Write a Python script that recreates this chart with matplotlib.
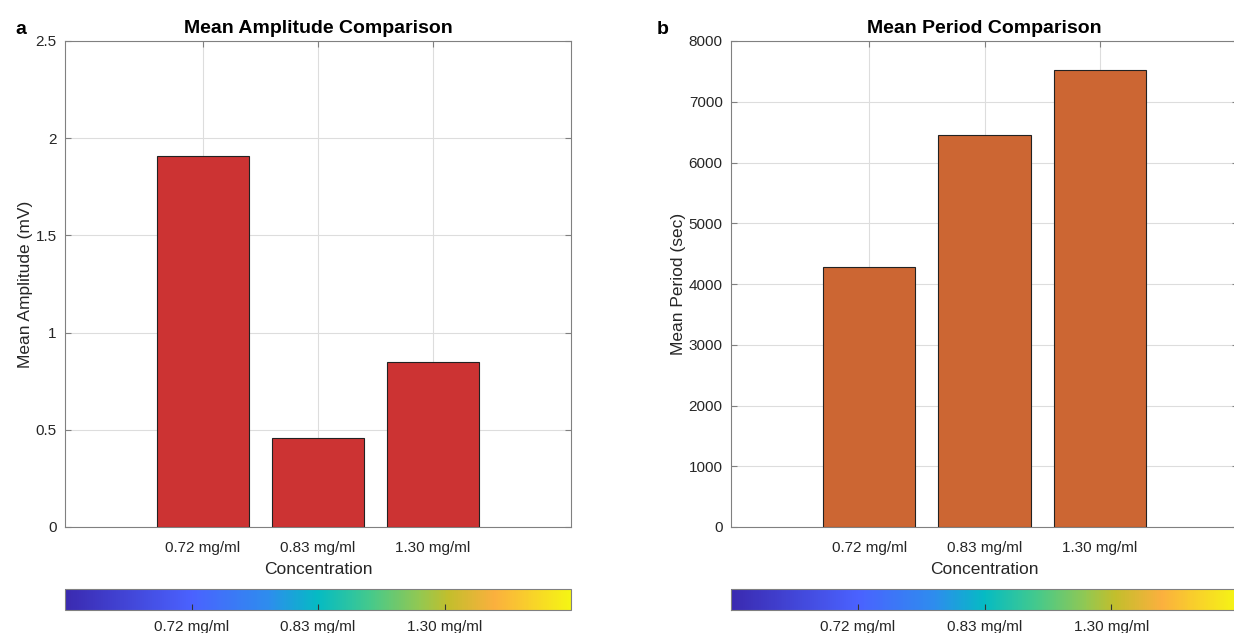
import numpy as np
import matplotlib
matplotlib.use("Agg")
import matplotlib.pyplot as plt
from matplotlib.colors import LinearSegmentedColormap
import matplotlib.colorbar as mcolorbar
from matplotlib.colors import Normalize

plt.rcParams['font.family'] = ['Liberation Sans', 'DejaVu Sans']

categories = ["0.72 mg/ml", "0.83 mg/ml", "1.30 mg/ml"]
amplitude = [1.91, 0.46, 0.85]
period = [4280, 6460, 7530]

cmap_stops = [(0.0, "#3A2AB0"), (0.25, "#4A62FF"), (0.4, "#2E8CEE"),
              (0.5, "#05BBC3"), (0.6, "#42C98E"), (0.7, "#92C852"),
              (0.76, "#C3BE2C"), (0.85, "#FBB03E"), (1.0, "#F5F514")]
cmap = LinearSegmentedColormap.from_list("parula_like", cmap_stops)

W, H = 1234, 633
fig = plt.figure(figsize=(W / 100, H / 100), dpi=100)

def px_axes(x0, y0, x1, y1):
    return fig.add_axes([x0 / W, 1 - y1 / H, (x1 - x0) / W, (y1 - y0) / H])

spine_c = "#808080"
text_c = "#262626"

def style(ax):
    for s in ax.spines.values():
        s.set_color(spine_c)
        s.set_linewidth(0.8)
    ax.tick_params(direction="in", top=True, right=True, colors=spine_c,
                   labelcolor=text_c, labelsize=11, length=4, width=0.8)
    ax.tick_params(axis="x", pad=10)
    ax.tick_params(axis="y", pad=6)
    ax.grid(True, color="#DDDDDD", linewidth=0.8)
    ax.set_axisbelow(True)

x = np.arange(1, len(categories) + 1)

panels = [
    (65, 571, amplitude, "#CC3333", "Mean Amplitude Comparison", "Mean Amplitude (mV)",
     (0, 2.5), [0, 0.5, 1, 1.5, 2, 2.5], ["0", "0.5", "1", "1.5", "2", "2.5"], "a", 15),
    (731, 1238, period, "#CC6633", "Mean Period Comparison", "Mean Period (sec)",
     (0, 8000), list(range(0, 8001, 1000)), [str(v) for v in range(0, 8001, 1000)], "b", 657),
]

for (x0, x1, vals, col, title, ylabel, ylim, yt, ytl, lab, labx) in panels:
    ax = px_axes(x0, 41, x1, 527)
    style(ax)
    ax.bar(x, vals, width=0.8, color=col, edgecolor="#222222", linewidth=0.8, zorder=3)
    ax.set_xlim(-0.2, 4.2)
    ax.set_ylim(*ylim)
    ax.set_xticks(x)
    ax.set_xticklabels(categories)
    ax.set_yticks(yt)
    ax.set_yticklabels(ytl)
    ax.set_title(title, fontsize=14, fontweight="bold", color="black", pad=6)
    ax.set_ylabel(ylabel, fontsize=12.5, color=text_c, labelpad=2)
    ax.set_xlabel("Concentration", fontsize=12.5, color=text_c, labelpad=5)
    fig.text(labx / W, 1 - 30 / H, lab, fontsize=14, fontweight="bold", ha="left", va="center")

    cax = px_axes(x0, 589, x1, 610)
    cb = mcolorbar.ColorbarBase(cax, cmap=cmap, norm=Normalize(0, 1), orientation="horizontal")
    cb.set_ticks([0.25, 0.5, 0.75])
    cb.set_ticklabels(categories)
    cb.outline.set_edgecolor(spine_c)
    cb.outline.set_linewidth(0.8)
    cax.tick_params(direction="in", colors="#333333", labelcolor=text_c, labelsize=11,
                    length=4, width=0.8, pad=7)

fig.savefig("out.png", dpi=100)
